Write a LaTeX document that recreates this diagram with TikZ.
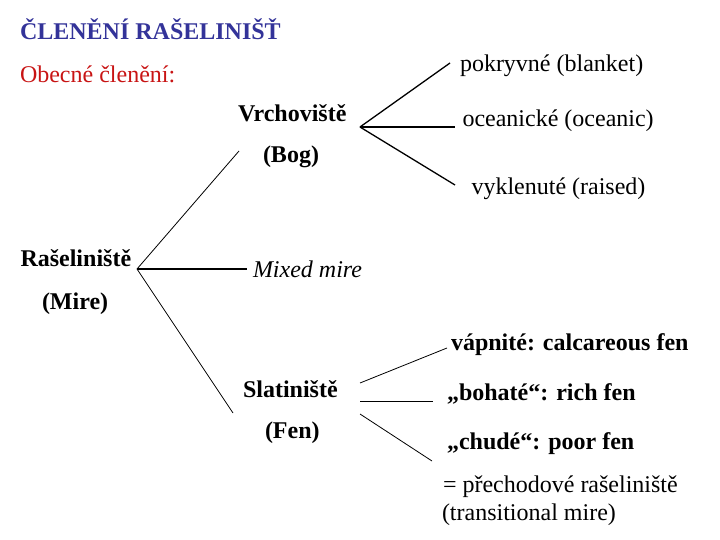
\documentclass[tikz,border=0pt]{standalone}
\usepackage{fontspec}
\setmainfont{Liberation Serif}
\definecolor{titleblue}{RGB}{51,51,153}
\definecolor{subred}{RGB}{200,20,20}
\begin{document}
\begin{tikzpicture}[x=1pt,y=-1pt,
  txt/.style={anchor=base west,inner sep=0pt,outer sep=0pt,font=\fontsize{24}{28}\selectfont},
  btxt/.style={txt,font=\fontsize{24}{28}\selectfont\bfseries},
  thin/.style={line width=0.8pt},
  mid/.style={line width=1.3pt},
  thick/.style={line width=2pt}]
\useasboundingbox (0,0) rectangle (720,540);
% titles
\node[btxt,text=titleblue] (title) at (20,39.5) {ČLENĚNÍ RAŠELINIŠŤ};
\node[txt,text=subred] (sub) at (20,83) {Obecné členění:};
% main nodes
\node[btxt] (mire) at (20.5,266) {Rašeliniště};
\node[btxt] (mire2) at (42,309) {(Mire)};
\node[btxt] (bog) at (238,122) {Vrchoviště};
\node[btxt] (bog2) at (263,163) {(Bog)};
\node[txt,font=\fontsize{24}{28}\selectfont\itshape] (mixed) at (253,277) {Mixed mire};
\node[btxt] (fen) at (243,397) {Slatiniště};
\node[btxt] (fen2) at (265,438) {(Fen)};
% bog children
\node[txt] (blanket) at (460,71.5) {pokryvné (blanket)};
\node[txt] (oceanic) at (462.5,127) {oceanické (oceanic)};
\node[txt] (raised) at (471.5,195) {vyklenuté (raised)};
% fen children
\node[btxt] (calc) at (451,350) {vápnité: calcareous fen};
\node[btxt] (rich) at (447,400) {„bohaté“: rich fen};
\node[btxt] (poor) at (447,449) {„chudé“: poor fen};
\node[txt] (trans1) at (443,492) {= přechodové rašeliniště};
\node[txt] (trans2) at (442,520) {(transitional mire)};
% connector points
\coordinate (mireR) at (137,269);
\coordinate (mireU) at (239,151);
\coordinate (mireM) at (247,269);
\coordinate (mireD) at (233,413);
\coordinate (bogR) at (360,127);
\coordinate (bogU) at (450,63);
\coordinate (bogM) at (455,127);
\coordinate (bogD) at (455,185);
\coordinate (fenRU) at (360,383);
\coordinate (fenRM) at (360,401);
\coordinate (fenRD) at (360,414);
\coordinate (fenU) at (447,348);
\coordinate (fenM) at (433,401);
\coordinate (fenD) at (432,461);
% connectors
\draw[thin] (mireR) -- (mireU);
\draw[thick] (mireR) -- (mireM);
\draw[thin] (mireR) -- (mireD);
\draw[mid] (bogR) -- (bogU);
\draw[thick] (bogR) -- (bogM);
\draw[mid] (bogR) -- (bogD);
\draw[thin] (fenRU) -- (fenU);
\draw[thin] (fenRM) -- (fenM);
\draw[thin] (fenRD) -- (fenD);
\end{tikzpicture}
\end{document}
